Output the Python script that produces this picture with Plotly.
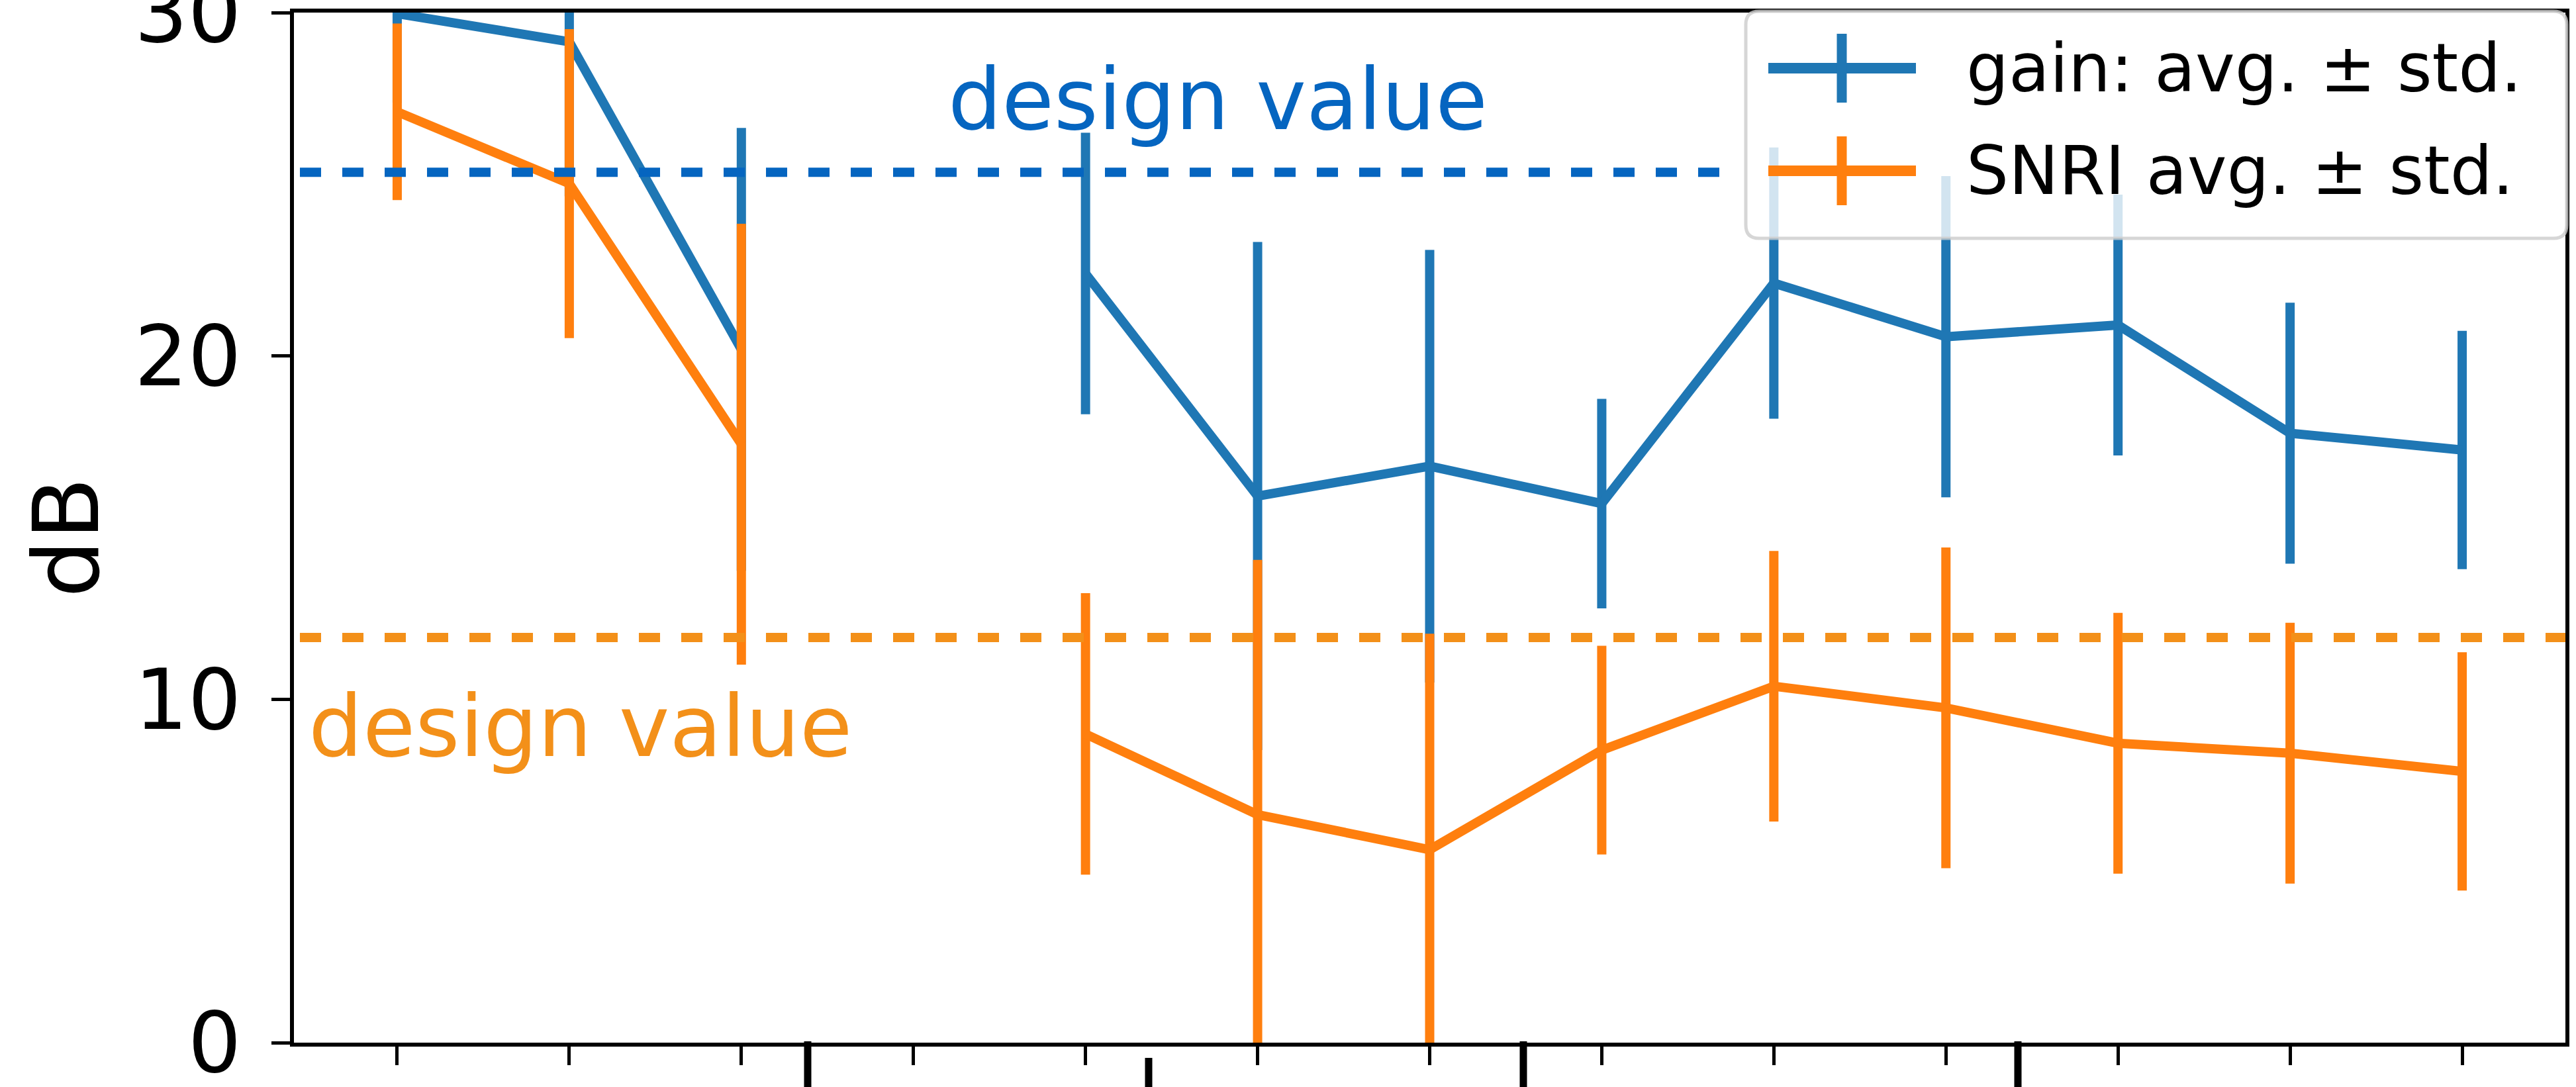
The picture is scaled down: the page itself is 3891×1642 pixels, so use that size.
import plotly.graph_objects as go

# ---- data -------------------------------------------------------------
cond_index = list(range(13))
gain_avg = [29.97, 29.15, 20.19, None, 22.40, 15.92, 16.79, 15.70, 22.12, 20.56, 20.90, 17.75, 17.26]
gain_std = [2.6, 4.5, 6.45, None, 4.10, 7.40, 6.30, 3.05, 3.95, 4.68, 3.80, 3.80, 3.47]
snri_avg = [27.11, 25.02, 17.43, None, 8.99, 6.64, 5.62, 8.52, 10.38, 9.75, 8.72, 8.43, 7.90]
snri_std = [2.57, 4.50, 6.42, None, 4.10, 7.42, 6.29, 3.04, 3.94, 4.67, 3.80, 3.80, 3.47]
gain_design = 25.35
snri_design = 11.80
y_ticks = [0, 10, 20, 30]
legend_labels = ["gain: avg. ± std.", "SNRI avg. ± std."]
design_label = "design value"

# ---- style -------------------------------------------------------------
W, H = 3891, 1642
L, R, T, B = 444, 16, 19, 67
PW, PH = W - L - R, H - T - B
C_GAIN, C_SNRI = "#1f77b4", "#ff7f0e"
C_GAIN_D, C_SNRI_D = "#0565c0", "#f39019"
FONT = "DejaVu Sans"
LW = 14


def px(xp):
    return (xp - L) / PW


def py(yp):
    return (H - B - yp) / PH


fig = go.Figure()
for avg, std, col in [(gain_avg, gain_std, C_GAIN), (snri_avg, snri_std, C_SNRI)]:
    fig.add_trace(go.Scatter(
        x=cond_index, y=avg, mode="lines",
        line=dict(color=col, width=LW),
        error_y=dict(type="data", array=std, visible=True,
                     thickness=LW, width=0, color=col),
        connectgaps=False, showlegend=False, hoverinfo="skip",
    ))

shapes = []
# design-value reference lines
shapes.append(dict(type="line", xref="paper", yref="y",
                   x0=px(453), x1=px(2610), y0=gain_design, y1=gain_design,
                   line=dict(color=C_GAIN_D, width=LW, dash="32px,32px")))
shapes.append(dict(type="line", xref="paper", yref="y",
                   x0=px(453), x1=1, y0=snri_design, y1=snri_design,
                   line=dict(color=C_SNRI_D, width=LW, dash="32px,32px")))

# group separators below the x axis
for xs, ys in [(1220, 1573), (1735, 1598), (2301, 1573), (3048, 1573)]:
    shapes.append(dict(type="line", xref="paper", yref="paper",
                       x0=px(xs), x1=px(xs), y0=py(ys), y1=py(H + 40),
                       line=dict(color="black", width=11)))

# legend frame (rounded box)
x0, x1, y0, y1, r = 2637, 3877, 17, 360, 20
pts = [("M", x0 + r, y0), ("L", x1 - r, y0), ("Q", x1, y0, x1, y0 + r),
       ("L", x1, y1 - r), ("Q", x1, y1, x1 - r, y1), ("L", x0 + r, y1),
       ("Q", x0, y1, x0, y1 - r), ("L", x0, y0 + r), ("Q", x0, y0, x0 + r, y0)]
path = ""
for p in pts:
    cmd, coords = p[0], p[1:]
    pairs = [f"{px(coords[i]):.6f},{py(coords[i + 1]):.6f}" for i in range(0, len(coords), 2)]
    path += cmd + " ".join(pairs) + " "
path += "Z"
shapes.append(dict(type="path", xref="paper", yref="paper", path=path,
                   fillcolor="rgba(255,255,255,0.8)",
                   line=dict(color="rgba(204,204,204,0.8)", width=5)))

# legend handles
annotations = []
for (hy, col, label) in [(103, C_GAIN, legend_labels[0]), (258, C_SNRI, legend_labels[1])]:
    shapes.append(dict(type="line", xref="paper", yref="paper",
                       x0=px(2671), x1=px(2894), y0=py(hy), y1=py(hy),
                       line=dict(color=col, width=16)))
    shapes.append(dict(type="line", xref="paper", yref="paper",
                       x0=px(2782), x1=px(2782), y0=py(hy - 52), y1=py(hy + 52),
                       line=dict(color=col, width=15)))
    annotations.append(dict(xref="paper", yref="paper", x=px(2968), y=py(hy),
                            xanchor="left", yanchor="middle", showarrow=False,
                            text=label, font=dict(family=FONT, size=101, color="black")))

annotations.append(dict(xref="paper", yref="paper", x=px(1430), y=py(151),
                        xanchor="left", yanchor="middle", showarrow=False,
                        text=design_label, font=dict(family=FONT, size=128, color=C_GAIN_D)))
annotations.append(dict(xref="paper", yref="paper", x=px(464), y=py(1097),
                        xanchor="left", yanchor="middle", showarrow=False,
                        text=design_label, font=dict(family=FONT, size=129, color=C_SNRI_D)))
annotations.append(dict(xref="paper", yref="paper", x=px(100), y=py(812),
                        xanchor="center", yanchor="middle", showarrow=False, textangle=-90,
                        text="dB", font=dict(family=FONT, size=138, color="black")))

fig.update_layout(
    width=W, height=H,
    margin=dict(l=L, r=R, t=T, b=B, pad=0, autoexpand=False),
    paper_bgcolor="white", plot_bgcolor="white",
    showlegend=False,
    shapes=shapes, annotations=annotations,
    xaxis=dict(range=[-0.6, 12.6], tickvals=cond_index, showticklabels=False,
               ticks="outside", ticklen=28, tickwidth=5, tickcolor="black",
               showline=True, linecolor="black", linewidth=6, mirror=True,
               showgrid=False, zeroline=False, automargin=False),
    yaxis=dict(range=[0, 30], tickvals=y_ticks,
               ticks="outside", ticklen=28, tickwidth=5, tickcolor="black",
               tickfont=dict(family=FONT, size=127, color="black"),
               ticklabelstandoff=20, ticklabeloverflow="allow",
               showline=True, linecolor="black", linewidth=6, mirror=True,
               showgrid=False, zeroline=False, automargin=False),
)

fig.write_html("out.html")
